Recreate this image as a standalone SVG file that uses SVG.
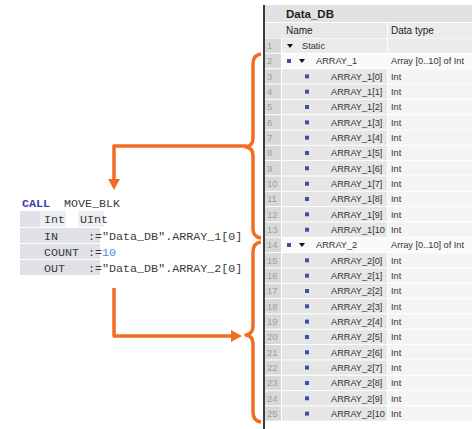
<svg xmlns="http://www.w3.org/2000/svg" width="474" height="429" viewBox="0 0 474 429">
<style>
.code{font-family:"Liberation Mono","Courier New",monospace;font-size:11.7px;fill:#3a3a3a}
.kw{fill:#3b3bb8;font-weight:bold}
.num10{fill:#5b82d6}
.cg{fill:#dfe1e6}
.cl{fill:#eceef2}
.t{font-family:"Liberation Sans",Arial,sans-serif;font-size:9.2px;fill:#333}
.n{font-family:"Liberation Sans",Arial,sans-serif;font-size:9.5px;fill:#a0a0a0}
.h{font-family:"Liberation Sans",Arial,sans-serif;fill:#222}
.nc{fill:#d8d8d8}
.nm{fill:#e6e6e6}
.dt{fill:#f4f4f4}
.wr{fill:#fafafa}
.sq{fill:#3b4fae}
.tri{fill:#111}
.or{fill:none;stroke:#f26d21;stroke-width:3.5;stroke-linejoin:round}
</style>
<defs>
<marker id="ah" markerUnits="userSpaceOnUse" markerWidth="12" markerHeight="12" refX="0" refY="6" orient="auto">
<path d="M0,0 L11,6 L0,12 z" fill="#f26d21"/>
</marker>
</defs>
<rect width="474" height="429" fill="#ffffff"/>

<g id="code-block">
<text class="code kw" x="22" y="207">CALL</text>
<text class="code" x="64" y="207">MOVE_BLK</text>
<rect class="cg" x="20" y="211" width="20" height="16"/>
<rect class="cl" x="40" y="211" width="26" height="16"/>
<rect class="cl" x="78" y="211" width="26" height="16"/>
<text class="code" x="44" y="223">Int</text>
<text class="code" x="80" y="223">UInt</text>
<rect class="cg" x="20" y="228" width="80" height="15"/>
<rect class="cg" x="20" y="244" width="80" height="15"/>
<rect class="cg" x="20" y="260" width="80" height="15"/>
<text class="code" x="44" y="240">IN</text>
<text class="code" x="88" y="240">:="Data_DB".ARRAY_1[0]</text>
<text class="code" x="44" y="256">COUNT</text>
<text class="code" x="88" y="256">:=<tspan class="num10">10</tspan></text>
<text class="code" x="44" y="272">OUT</text>
<text class="code" x="88" y="272">:="Data_DB".ARRAY_2[0]</text>
</g>

<g id="data-db-table">
<rect x="265" y="5" width="207" height="17" fill="#e2e2e2"/>
<text class="h" x="286" y="18" font-size="11.5" font-weight="bold">Data_DB</text>
<rect x="265" y="23" width="122" height="15" fill="#e8e8e8"/>
<rect x="388" y="23" width="84" height="15" fill="#ececec"/>
<text class="h" x="286" y="34" font-size="10">Name</text>
<text class="h" x="391" y="34" font-size="10">Data type</text>

<!-- row 1 -->
<rect class="nc" x="265" y="38.5" width="16" height="14.3"/>
<rect x="282" y="38.5" width="105" height="14.3" fill="#ebebeb"/>
<rect x="388" y="38.5" width="84" height="14.3" fill="#ebebeb"/>
<text class="n" x="267" y="49">1</text>
<polygon class="tri" points="287,44 293,44 290,48"/>
<text class="t" x="302" y="49">Static</text>

<!-- row 2 -->
<rect class="nc" x="265" y="53.8" width="16" height="14.3"/>
<rect class="wr" x="282" y="53.8" width="190" height="14.3"/>
<text class="n" x="267" y="64.3">2</text>
<rect class="sq" x="287" y="59" width="4" height="4"/>
<polygon class="tri" points="299,59 305,59 302,63"/>
<text class="t" x="316" y="64.3">ARRAY_1</text>
<text class="t" x="391" y="64.3">Array [0..10] of Int</text>

<!-- rows 3-13 -->
<g id="array1-elements">
<rect class="nc" x="265" y="69.2" width="16" height="14.3"/><rect class="nm" x="282" y="69.2" width="105" height="14.3"/><rect class="dt" x="388" y="69.2" width="84" height="14.3"/>
<text class="n" x="267" y="79.7">3</text><rect class="sq" x="305" y="74.4" width="4" height="4"/><text class="t" x="331" y="79.7">ARRAY_1[0]</text><text class="t" x="391" y="79.7">Int</text>

<rect class="nc" x="265" y="84.5" width="16" height="14.3"/><rect class="nm" x="282" y="84.5" width="105" height="14.3"/><rect class="dt" x="388" y="84.5" width="84" height="14.3"/>
<text class="n" x="267" y="95">4</text><rect class="sq" x="305" y="89.7" width="4" height="4"/><text class="t" x="331" y="95">ARRAY_1[1]</text><text class="t" x="391" y="95">Int</text>

<rect class="nc" x="265" y="99.8" width="16" height="14.3"/><rect class="nm" x="282" y="99.8" width="105" height="14.3"/><rect class="dt" x="388" y="99.8" width="84" height="14.3"/>
<text class="n" x="267" y="110.3">5</text><rect class="sq" x="305" y="105" width="4" height="4"/><text class="t" x="331" y="110.3">ARRAY_1[2]</text><text class="t" x="391" y="110.3">Int</text>

<rect class="nc" x="265" y="115.2" width="16" height="14.3"/><rect class="nm" x="282" y="115.2" width="105" height="14.3"/><rect class="dt" x="388" y="115.2" width="84" height="14.3"/>
<text class="n" x="267" y="125.7">6</text><rect class="sq" x="305" y="120.4" width="4" height="4"/><text class="t" x="331" y="125.7">ARRAY_1[3]</text><text class="t" x="391" y="125.7">Int</text>

<rect class="nc" x="265" y="130.5" width="16" height="14.3"/><rect class="nm" x="282" y="130.5" width="105" height="14.3"/><rect class="dt" x="388" y="130.5" width="84" height="14.3"/>
<text class="n" x="267" y="141">7</text><rect class="sq" x="305" y="135.7" width="4" height="4"/><text class="t" x="331" y="141">ARRAY_1[4]</text><text class="t" x="391" y="141">Int</text>

<rect class="nc" x="265" y="145.8" width="16" height="14.3"/><rect class="nm" x="282" y="145.8" width="105" height="14.3"/><rect class="dt" x="388" y="145.8" width="84" height="14.3"/>
<text class="n" x="267" y="156.3">8</text><rect class="sq" x="305" y="151" width="4" height="4"/><text class="t" x="331" y="156.3">ARRAY_1[5]</text><text class="t" x="391" y="156.3">Int</text>

<rect class="nc" x="265" y="161.1" width="16" height="14.3"/><rect class="nm" x="282" y="161.1" width="105" height="14.3"/><rect class="dt" x="388" y="161.1" width="84" height="14.3"/>
<text class="n" x="267" y="171.6">9</text><rect class="sq" x="305" y="166.3" width="4" height="4"/><text class="t" x="331" y="171.6">ARRAY_1[6]</text><text class="t" x="391" y="171.6">Int</text>

<rect class="nc" x="265" y="176.5" width="16" height="14.3"/><rect class="nm" x="282" y="176.5" width="105" height="14.3"/><rect class="dt" x="388" y="176.5" width="84" height="14.3"/>
<text class="n" x="267" y="187">10</text><rect class="sq" x="305" y="181.7" width="4" height="4"/><text class="t" x="331" y="187">ARRAY_1[7]</text><text class="t" x="391" y="187">Int</text>

<rect class="nc" x="265" y="191.8" width="16" height="14.3"/><rect class="nm" x="282" y="191.8" width="105" height="14.3"/><rect class="dt" x="388" y="191.8" width="84" height="14.3"/>
<text class="n" x="267" y="202.3">11</text><rect class="sq" x="305" y="197" width="4" height="4"/><text class="t" x="331" y="202.3">ARRAY_1[8]</text><text class="t" x="391" y="202.3">Int</text>

<rect class="nc" x="265" y="207.1" width="16" height="14.3"/><rect class="nm" x="282" y="207.1" width="105" height="14.3"/><rect class="dt" x="388" y="207.1" width="84" height="14.3"/>
<text class="n" x="267" y="217.6">12</text><rect class="sq" x="305" y="212.3" width="4" height="4"/><text class="t" x="331" y="217.6">ARRAY_1[9]</text><text class="t" x="391" y="217.6">Int</text>

<rect class="nc" x="265" y="222.5" width="16" height="14.3"/><rect class="nm" x="282" y="222.5" width="105" height="14.3"/><rect class="dt" x="388" y="222.5" width="84" height="14.3"/>
<text class="n" x="267" y="233">13</text><rect class="sq" x="305" y="227.7" width="4" height="4"/><text class="t" x="331" y="233">ARRAY_1[10</text><text class="t" x="391" y="233">Int</text>
</g>

<!-- row 14 -->
<rect class="nc" x="265" y="237.8" width="16" height="14.3"/>
<rect class="wr" x="282" y="237.8" width="190" height="14.3"/>
<text class="n" x="267" y="248.3">14</text>
<rect class="sq" x="287" y="243" width="4" height="4"/>
<polygon class="tri" points="299,243 305,243 302,247"/>
<text class="t" x="316" y="248.3">ARRAY_2</text>
<text class="t" x="391" y="248.3">Array [0..10] of Int</text>

<!-- rows 15-25 -->
<g id="array2-elements">
<rect class="nc" x="265" y="253.1" width="16" height="14.3"/><rect class="nm" x="282" y="253.1" width="105" height="14.3"/><rect class="dt" x="388" y="253.1" width="84" height="14.3"/>
<text class="n" x="267" y="263.6">15</text><rect class="sq" x="305" y="258.3" width="4" height="4"/><text class="t" x="331" y="263.6">ARRAY_2[0]</text><text class="t" x="391" y="263.6">Int</text>

<rect class="nc" x="265" y="268.5" width="16" height="14.3"/><rect class="nm" x="282" y="268.5" width="105" height="14.3"/><rect class="dt" x="388" y="268.5" width="84" height="14.3"/>
<text class="n" x="267" y="279">16</text><rect class="sq" x="305" y="273.7" width="4" height="4"/><text class="t" x="331" y="279">ARRAY_2[1]</text><text class="t" x="391" y="279">Int</text>

<rect class="nc" x="265" y="283.8" width="16" height="14.3"/><rect class="nm" x="282" y="283.8" width="105" height="14.3"/><rect class="dt" x="388" y="283.8" width="84" height="14.3"/>
<text class="n" x="267" y="294.3">17</text><rect class="sq" x="305" y="289" width="4" height="4"/><text class="t" x="331" y="294.3">ARRAY_2[2]</text><text class="t" x="391" y="294.3">Int</text>

<rect class="nc" x="265" y="299.1" width="16" height="14.3"/><rect class="nm" x="282" y="299.1" width="105" height="14.3"/><rect class="dt" x="388" y="299.1" width="84" height="14.3"/>
<text class="n" x="267" y="309.6">18</text><rect class="sq" x="305" y="304.3" width="4" height="4"/><text class="t" x="331" y="309.6">ARRAY_2[3]</text><text class="t" x="391" y="309.6">Int</text>

<rect class="nc" x="265" y="314.4" width="16" height="14.3"/><rect class="nm" x="282" y="314.4" width="105" height="14.3"/><rect class="dt" x="388" y="314.4" width="84" height="14.3"/>
<text class="n" x="267" y="324.9">19</text><rect class="sq" x="305" y="319.6" width="4" height="4"/><text class="t" x="331" y="324.9">ARRAY_2[4]</text><text class="t" x="391" y="324.9">Int</text>

<rect class="nc" x="265" y="329.8" width="16" height="14.3"/><rect class="nm" x="282" y="329.8" width="105" height="14.3"/><rect class="dt" x="388" y="329.8" width="84" height="14.3"/>
<text class="n" x="267" y="340.3">20</text><rect class="sq" x="305" y="335" width="4" height="4"/><text class="t" x="331" y="340.3">ARRAY_2[5]</text><text class="t" x="391" y="340.3">Int</text>

<rect class="nc" x="265" y="345.1" width="16" height="14.3"/><rect class="nm" x="282" y="345.1" width="105" height="14.3"/><rect class="dt" x="388" y="345.1" width="84" height="14.3"/>
<text class="n" x="267" y="355.6">21</text><rect class="sq" x="305" y="350.3" width="4" height="4"/><text class="t" x="331" y="355.6">ARRAY_2[6]</text><text class="t" x="391" y="355.6">Int</text>

<rect class="nc" x="265" y="360.4" width="16" height="14.3"/><rect class="nm" x="282" y="360.4" width="105" height="14.3"/><rect class="dt" x="388" y="360.4" width="84" height="14.3"/>
<text class="n" x="267" y="370.9">22</text><rect class="sq" x="305" y="365.6" width="4" height="4"/><text class="t" x="331" y="370.9">ARRAY_2[7]</text><text class="t" x="391" y="370.9">Int</text>

<rect class="nc" x="265" y="375.8" width="16" height="14.3"/><rect class="nm" x="282" y="375.8" width="105" height="14.3"/><rect class="dt" x="388" y="375.8" width="84" height="14.3"/>
<text class="n" x="267" y="386.3">23</text><rect class="sq" x="305" y="381" width="4" height="4"/><text class="t" x="331" y="386.3">ARRAY_2[8]</text><text class="t" x="391" y="386.3">Int</text>

<rect class="nc" x="265" y="391.1" width="16" height="14.3"/><rect class="nm" x="282" y="391.1" width="105" height="14.3"/><rect class="dt" x="388" y="391.1" width="84" height="14.3"/>
<text class="n" x="267" y="401.6">24</text><rect class="sq" x="305" y="396.3" width="4" height="4"/><text class="t" x="331" y="401.6">ARRAY_2[9]</text><text class="t" x="391" y="401.6">Int</text>

<rect class="nc" x="265" y="406.4" width="16" height="14.3"/><rect class="nm" x="282" y="406.4" width="105" height="14.3"/><rect class="dt" x="388" y="406.4" width="84" height="14.3"/>
<text class="n" x="267" y="416.9">25</text><rect class="sq" x="305" y="411.6" width="4" height="4"/><text class="t" x="331" y="416.9">ARRAY_2[10</text><text class="t" x="391" y="416.9">Int</text>
</g>
<rect x="263" y="5" width="2" height="424" fill="#3c3c3c"/>
</g>

<g id="brace-array1">
<path class="or" d="M261,54 Q253,55 253,64 V138 Q253,146 246,147 Q253,148 253,156 V229 Q253,237 261,238"/>
</g>
<g id="brace-array2">
<path class="or" d="M261,242 Q253,243 253,252 V326 Q253,334 246,335 Q253,336 253,344 V412 Q253,421 261,422"/>
</g>

<g id="connectors">
<path class="or" d="M247,146 H114 V179" marker-end="url(#ah)"/>
<path class="or" d="M114,288 V336 H231" marker-end="url(#ah)"/>
</g>
</svg>
